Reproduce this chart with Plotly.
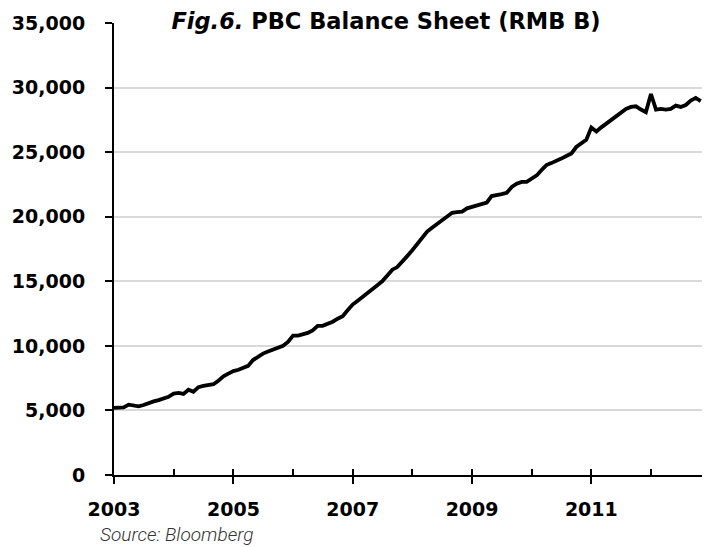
import plotly.graph_objects as go
import pandas as pd

# Monthly PBC balance sheet, RMB billions, Jan 2003 - Nov 2012
dates = pd.date_range("2003-01-01", periods=119, freq="MS")
values = [
    5200, 5180, 5230, 5450, 5400, 5320, 5420, 5580, 5700, 5800, 5920, 6050,
    6300, 6350, 6280, 6600, 6450, 6800, 6900, 6960, 7030, 7300, 7650, 7850,
    8050, 8150, 8300, 8450, 8900, 9200, 9400, 9560, 9700, 9850, 10000, 10300,
    10800, 10800, 10900, 11000, 11200, 11550, 11550, 11700, 11870, 12100, 12300, 12750,
    13200, 13500, 13800, 14060, 14400, 14700, 15000, 15450, 15900, 16100, 16500, 16950,
    17400, 17900, 18400, 18850, 19150, 19450, 19700, 20000, 20300, 20350, 20400, 20650,
    20750, 20850, 20980, 21100, 21600, 21650, 21750, 21850, 22300, 22550, 22700, 22700,
    22950, 23200, 23600, 24000, 24150, 24300, 24500, 24700, 24900, 25400, 25700, 25950,
    26900, 26600, 26900, 27200, 27500, 27850, 28100, 28350, 28500, 28550, 28300, 28100,
    29500, 28300, 28350, 28300, 28350, 28600, 28500, 28650, 29000, 29200, 28950,
]
x_tickvals = ["2003-01-01", "2005-01-01", "2007-01-01", "2009-01-01", "2011-01-01"]
x_ticktext = ["2003", "2005", "2007", "2009", "2011"]
title_text = "<i>Fig.6.</i> PBC Balance Sheet (RMB B)"
source_text = "Source: Bloomberg"

x_range = ["2003-01-01", "2012-12-03"]
tick_font = dict(family="DejaVu Sans", size=19, color="black", weight="bold")

# the page body has an 8px margin, so the figure is offset by 8px
OFF = 8
W, H = 710 - OFF, 547 - OFF

fig = go.Figure()
fig.add_trace(go.Scatter(x=dates, y=values, mode="lines",
                         line=dict(color="black", width=3.8),
                         showlegend=False, hoverinfo="skip"))
# invisible trace on secondary x axis for inside minor ticks
fig.add_trace(go.Scatter(x=[dates[0]], y=[values[0]], xaxis="x2", mode="lines",
                         line=dict(width=0), showlegend=False, hoverinfo="skip"))

fig.update_layout(
    width=W, height=H,
    margin=dict(l=113 - OFF, r=4, t=20 - OFF, b=H - (475 - OFF)),
    paper_bgcolor="white", plot_bgcolor="white",
    title=dict(text=title_text, x=(386 - OFF) / W, xanchor="center",
               y=1 - (21 - OFF) / H, yanchor="middle",
               font=dict(family="DejaVu Sans", size=22.5, color="black", weight="bold")),
    xaxis=dict(type="date", range=x_range, tickmode="array",
               tickvals=x_tickvals, ticktext=x_ticktext,
               showgrid=False, zeroline=False,
               showline=True, linecolor="black", linewidth=2,
               ticks="outside", ticklen=7, tickwidth=1.5, tickcolor="black",
               tickfont=tick_font, ticklabelstandoff=9),
    xaxis2=dict(type="date", range=x_range, overlaying="x", anchor="y",
                side="bottom", dtick="M12", tick0="2003-01-01",
                showticklabels=False, showgrid=False, zeroline=False,
                ticks="inside", ticklen=6, tickwidth=1.5, tickcolor="black"),
    yaxis=dict(range=[0, 35000], dtick=5000, tickformat=",",
               showgrid=True, gridcolor="#d9d9d9", gridwidth=1.5,
               zeroline=False, showline=True, linecolor="black", linewidth=2,
               ticks="outside", ticklen=7, tickwidth=1.5, tickcolor="black",
               tickfont=tick_font, ticklabelstandoff=16),
    annotations=[dict(text=source_text, xref="paper", yref="paper",
                      x=(97 - 113) / 593, y=(475 - 535) / 455,
                      xanchor="left", yanchor="middle", showarrow=False,
                      font=dict(family="Roboto", size=19, color="#333333",
                                style="italic", weight=300))],
)

fig.write_html("out.html")
